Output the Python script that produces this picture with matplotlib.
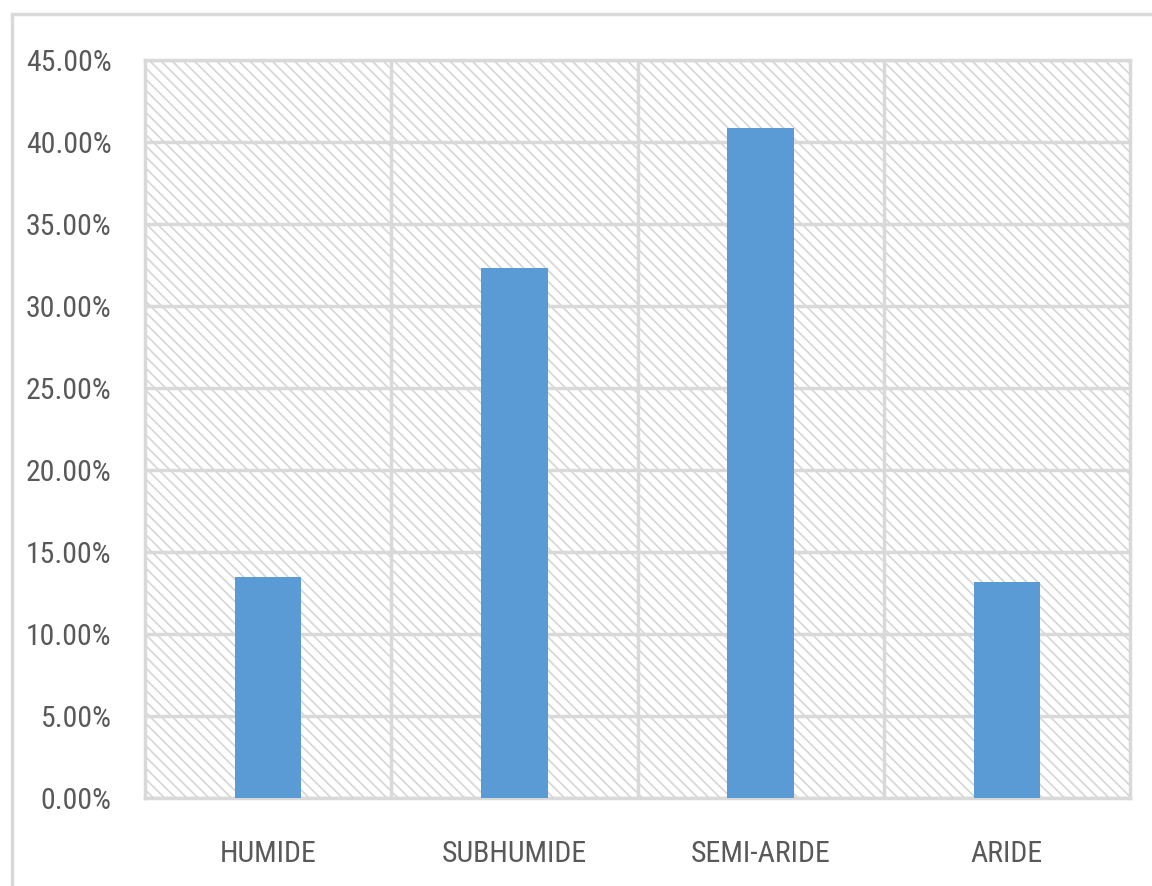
import matplotlib
matplotlib.use("Agg")
import matplotlib.pyplot as plt
from matplotlib.patches import Rectangle
from matplotlib.ticker import FuncFormatter, FixedLocator

categories = ["HUMIDE", "SUBHUMIDE", "SEMI-ARIDE", "ARIDE"]
shares = [13.48, 32.3, 40.85, 13.15]
yticks = [0, 5, 10, 15, 20, 25, 30, 35, 40, 45]

plt.rcParams['font.family'] = ['Liberation Sans Narrow', 'Roboto Condensed', 'Liberation Sans', 'DejaVu Sans']
plt.rcParams['hatch.linewidth'] = 1.2

grid_col = '#d9d9d9'
text_col = '#595959'

fig = plt.figure(figsize=(11.52, 8.86), dpi=100)
# outer chart border (cut off at right and bottom in the original)
fig.patches.append(Rectangle((12 / 1152, -10 / 886), 1150 / 1152, 882 / 886,
                             transform=fig.transFigure, fill=False,
                             edgecolor=grid_col, linewidth=2.5))

ax = fig.add_axes([145 / 1152, 88 / 886, 985 / 1152, 738 / 886])

# hatched plot-area background
ax.add_patch(Rectangle((0, 0), 1, 1, transform=ax.transAxes, facecolor='none',
                       edgecolor='#d6d6d6', linewidth=0, hatch='\\\\\\', zorder=0))

x = range(len(categories))
ax.bar(x, shares, width=0.27, color='#5b9bd5', zorder=3)

ax.set_xlim(-0.5, len(categories) - 0.5)
ax.set_ylim(0, 45)
ax.set_yticks(yticks)
ax.yaxis.set_major_formatter(FuncFormatter(lambda v, p: f"{v:.2f}%"))
ax.set_xticks(list(x))
ax.set_xticklabels(categories)
ax.xaxis.set_minor_locator(FixedLocator([0.5, 1.5, 2.5]))

ax.grid(axis='y', which='major', color=grid_col, linewidth=2.5, zorder=1)
ax.grid(axis='x', which='minor', color=grid_col, linewidth=2.5, zorder=1)
ax.set_axisbelow(True)
for s in ax.spines.values():
    s.set_color(grid_col)
    s.set_linewidth(2.5)

ax.tick_params(axis='both', which='both', length=0, labelsize=21.5, colors=text_col)
ax.tick_params(axis='y', pad=24)
ax.tick_params(axis='x', pad=30)

fig.savefig("out.png", dpi=100)
